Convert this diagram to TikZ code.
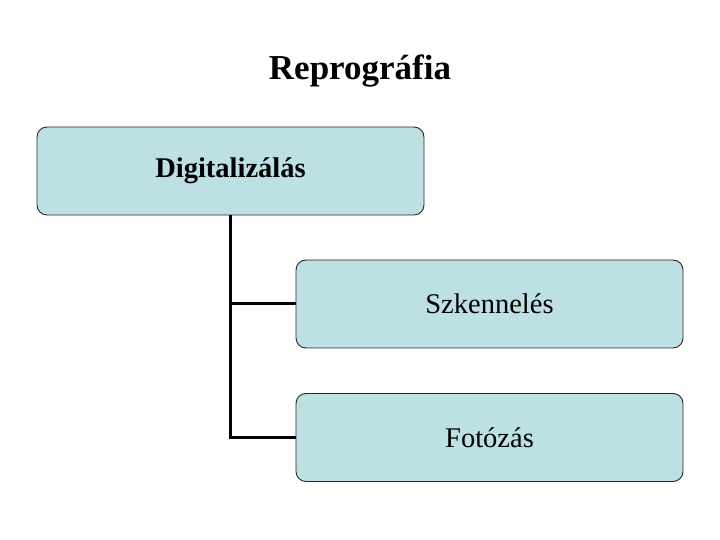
\documentclass[tikz,border=0pt]{standalone}
\usepackage{fontspec}
\setmainfont{Liberation Serif}
\usepackage{tikz}
\definecolor{boxblue}{RGB}{188,224,228}

\begin{document}
\begin{tikzpicture}[x=1pt,y=1pt,
    box/.style={draw=black!85,line width=0.9pt,fill=boxblue,rounded corners=10pt,
        minimum width=387pt,minimum height=88pt,inner sep=0pt,
        font=\fontsize{28.5}{32}\selectfont},
    branch/.style={line width=3pt}]
    \useasboundingbox (0,0) rectangle (720,540);

    \node[font=\fontsize{35}{40}\selectfont\bfseries] (title) at (360,469) {Reprográfia};

    \node[box,font=\fontsize{28.5}{32}\selectfont\bfseries] (dig) at (230.5,369) {Digitalizálás};
    \node[box] (szk) at (489.5,236) {Szkennelés};
    \node[box] (foto) at (489.5,102.5) {Fotózás};

    \draw[branch] (dig.south) |- (szk.west);
    \draw[branch] (dig.south) |- (foto.west);
\end{tikzpicture}
\end{document}
